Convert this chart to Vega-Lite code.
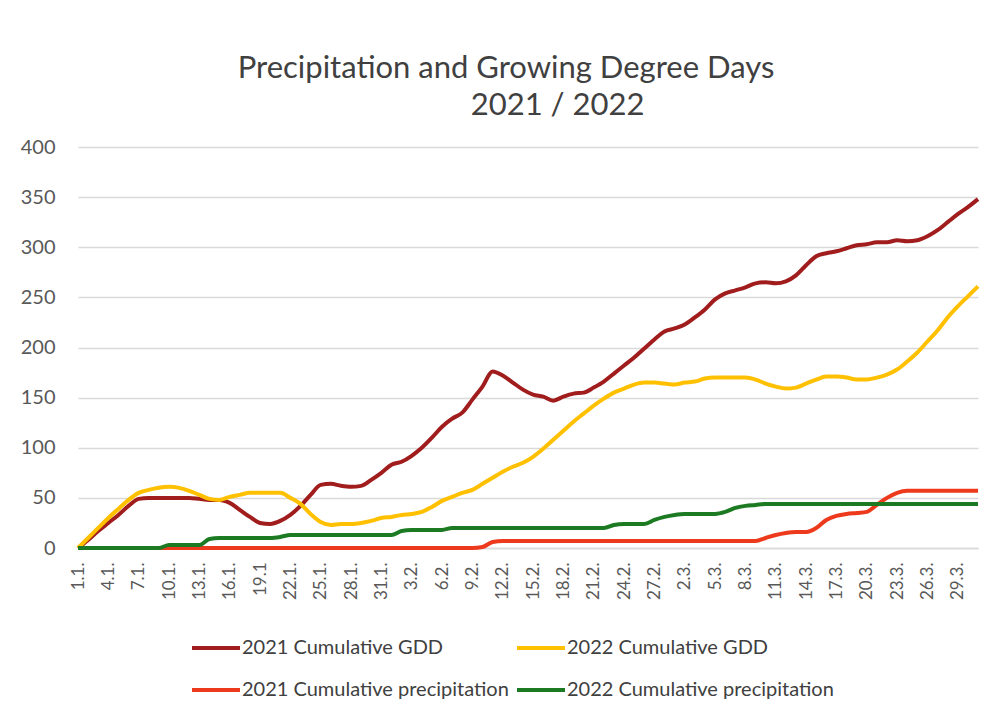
{
  "$schema": "https://vega.github.io/schema/vega-lite/v6.json",
  "width": 900,
  "height": 401,
  "autosize": "none",
  "padding": {"left": 78, "top": 147, "right": 17, "bottom": 170},
  "background": "white",
  "title": {
    "text": ["Precipitation and Growing Degree Days", "\u200b\u00a0\u00a0\u00a0\u00a0\u00a0\u00a0\u00a0\u00a0\u00a0\u00a0\u00a0\u00a0\u00a02021 / 2022"],
    "font": "Lato",
    "fontSize": 31,
    "fontWeight": "normal",
    "color": "#404040",
    "anchor": "middle",
    "dx": -22,
    "offset": 15,
    "lineHeight": 37
  },
  "data": {
    "values": [
      {"d": "1.1.", "2021 Cumulative GDD": 0, "2022 Cumulative GDD": 0, "2021 Cumulative precipitation": 0, "2022 Cumulative precipitation": 0},
      {"d": "2.1.", "2021 Cumulative GDD": 8, "2022 Cumulative GDD": 10, "2021 Cumulative precipitation": 0, "2022 Cumulative precipitation": 0},
      {"d": "3.1.", "2021 Cumulative GDD": 17, "2022 Cumulative GDD": 20, "2021 Cumulative precipitation": 0, "2022 Cumulative precipitation": 0},
      {"d": "4.1.", "2021 Cumulative GDD": 25, "2022 Cumulative GDD": 30, "2021 Cumulative precipitation": 0, "2022 Cumulative precipitation": 0},
      {"d": "5.1.", "2021 Cumulative GDD": 33, "2022 Cumulative GDD": 39, "2021 Cumulative precipitation": 0, "2022 Cumulative precipitation": 0},
      {"d": "6.1.", "2021 Cumulative GDD": 42, "2022 Cumulative GDD": 48, "2021 Cumulative precipitation": 0, "2022 Cumulative precipitation": 0},
      {"d": "7.1.", "2021 Cumulative GDD": 49, "2022 Cumulative GDD": 55, "2021 Cumulative precipitation": 0, "2022 Cumulative precipitation": 0},
      {"d": "8.1.", "2021 Cumulative GDD": 50, "2022 Cumulative GDD": 58, "2021 Cumulative precipitation": 0, "2022 Cumulative precipitation": 0},
      {"d": "9.1.", "2021 Cumulative GDD": 50, "2022 Cumulative GDD": 60, "2021 Cumulative precipitation": 0, "2022 Cumulative precipitation": 0},
      {"d": "10.1.", "2021 Cumulative GDD": 50, "2022 Cumulative GDD": 61, "2021 Cumulative precipitation": 0, "2022 Cumulative precipitation": 3},
      {"d": "11.1.", "2021 Cumulative GDD": 50, "2022 Cumulative GDD": 60, "2021 Cumulative precipitation": 0, "2022 Cumulative precipitation": 3},
      {"d": "12.1.", "2021 Cumulative GDD": 50, "2022 Cumulative GDD": 57, "2021 Cumulative precipitation": 0, "2022 Cumulative precipitation": 3},
      {"d": "13.1.", "2021 Cumulative GDD": 49, "2022 Cumulative GDD": 53, "2021 Cumulative precipitation": 0, "2022 Cumulative precipitation": 3},
      {"d": "14.1.", "2021 Cumulative GDD": 48, "2022 Cumulative GDD": 49, "2021 Cumulative precipitation": 0, "2022 Cumulative precipitation": 9},
      {"d": "15.1.", "2021 Cumulative GDD": 48, "2022 Cumulative GDD": 48, "2021 Cumulative precipitation": 0, "2022 Cumulative precipitation": 10},
      {"d": "16.1.", "2021 Cumulative GDD": 45, "2022 Cumulative GDD": 51, "2021 Cumulative precipitation": 0, "2022 Cumulative precipitation": 10},
      {"d": "17.1.", "2021 Cumulative GDD": 38, "2022 Cumulative GDD": 53, "2021 Cumulative precipitation": 0, "2022 Cumulative precipitation": 10},
      {"d": "18.1.", "2021 Cumulative GDD": 31, "2022 Cumulative GDD": 55, "2021 Cumulative precipitation": 0, "2022 Cumulative precipitation": 10},
      {"d": "19.1", "2021 Cumulative GDD": 25, "2022 Cumulative GDD": 55, "2021 Cumulative precipitation": 0, "2022 Cumulative precipitation": 10},
      {"d": "20.1.", "2021 Cumulative GDD": 24, "2022 Cumulative GDD": 55, "2021 Cumulative precipitation": 0, "2022 Cumulative precipitation": 10},
      {"d": "21.1.", "2021 Cumulative GDD": 27, "2022 Cumulative GDD": 55, "2021 Cumulative precipitation": 0, "2022 Cumulative precipitation": 11},
      {"d": "22.1.", "2021 Cumulative GDD": 33, "2022 Cumulative GDD": 50, "2021 Cumulative precipitation": 0, "2022 Cumulative precipitation": 13},
      {"d": "23.1.", "2021 Cumulative GDD": 42, "2022 Cumulative GDD": 44, "2021 Cumulative precipitation": 0, "2022 Cumulative precipitation": 13},
      {"d": "24.1.", "2021 Cumulative GDD": 53, "2022 Cumulative GDD": 34, "2021 Cumulative precipitation": 0, "2022 Cumulative precipitation": 13},
      {"d": "25.1.", "2021 Cumulative GDD": 63, "2022 Cumulative GDD": 26, "2021 Cumulative precipitation": 0, "2022 Cumulative precipitation": 13},
      {"d": "26.1.", "2021 Cumulative GDD": 64, "2022 Cumulative GDD": 23, "2021 Cumulative precipitation": 0, "2022 Cumulative precipitation": 13},
      {"d": "27.1.", "2021 Cumulative GDD": 62, "2022 Cumulative GDD": 24, "2021 Cumulative precipitation": 0, "2022 Cumulative precipitation": 13},
      {"d": "28.1.", "2021 Cumulative GDD": 61, "2022 Cumulative GDD": 24, "2021 Cumulative precipitation": 0, "2022 Cumulative precipitation": 13},
      {"d": "29.1.", "2021 Cumulative GDD": 62, "2022 Cumulative GDD": 25, "2021 Cumulative precipitation": 0, "2022 Cumulative precipitation": 13},
      {"d": "30.1.", "2021 Cumulative GDD": 68, "2022 Cumulative GDD": 27, "2021 Cumulative precipitation": 0, "2022 Cumulative precipitation": 13},
      {"d": "31.1.", "2021 Cumulative GDD": 75, "2022 Cumulative GDD": 30, "2021 Cumulative precipitation": 0, "2022 Cumulative precipitation": 13},
      {"d": "1.2.", "2021 Cumulative GDD": 83, "2022 Cumulative GDD": 31, "2021 Cumulative precipitation": 0, "2022 Cumulative precipitation": 13},
      {"d": "2.2.", "2021 Cumulative GDD": 86, "2022 Cumulative GDD": 33, "2021 Cumulative precipitation": 0, "2022 Cumulative precipitation": 17},
      {"d": "3.2.", "2021 Cumulative GDD": 92, "2022 Cumulative GDD": 34, "2021 Cumulative precipitation": 0, "2022 Cumulative precipitation": 18},
      {"d": "4.2.", "2021 Cumulative GDD": 100, "2022 Cumulative GDD": 36, "2021 Cumulative precipitation": 0, "2022 Cumulative precipitation": 18},
      {"d": "5.2.", "2021 Cumulative GDD": 110, "2022 Cumulative GDD": 41, "2021 Cumulative precipitation": 0, "2022 Cumulative precipitation": 18},
      {"d": "6.2.", "2021 Cumulative GDD": 121, "2022 Cumulative GDD": 47, "2021 Cumulative precipitation": 0, "2022 Cumulative precipitation": 18},
      {"d": "7.2.", "2021 Cumulative GDD": 129, "2022 Cumulative GDD": 51, "2021 Cumulative precipitation": 0, "2022 Cumulative precipitation": 20},
      {"d": "8.2.", "2021 Cumulative GDD": 135, "2022 Cumulative GDD": 55, "2021 Cumulative precipitation": 0, "2022 Cumulative precipitation": 20},
      {"d": "9.2.", "2021 Cumulative GDD": 148, "2022 Cumulative GDD": 58, "2021 Cumulative precipitation": 0, "2022 Cumulative precipitation": 20},
      {"d": "10.2.", "2021 Cumulative GDD": 161, "2022 Cumulative GDD": 64, "2021 Cumulative precipitation": 1, "2022 Cumulative precipitation": 20},
      {"d": "11.2.", "2021 Cumulative GDD": 176, "2022 Cumulative GDD": 70, "2021 Cumulative precipitation": 6, "2022 Cumulative precipitation": 20},
      {"d": "12.2.", "2021 Cumulative GDD": 172, "2022 Cumulative GDD": 76, "2021 Cumulative precipitation": 7, "2022 Cumulative precipitation": 20},
      {"d": "13.2.", "2021 Cumulative GDD": 165, "2022 Cumulative GDD": 81, "2021 Cumulative precipitation": 7, "2022 Cumulative precipitation": 20},
      {"d": "14.2.", "2021 Cumulative GDD": 158, "2022 Cumulative GDD": 85, "2021 Cumulative precipitation": 7, "2022 Cumulative precipitation": 20},
      {"d": "15.2.", "2021 Cumulative GDD": 153, "2022 Cumulative GDD": 91, "2021 Cumulative precipitation": 7, "2022 Cumulative precipitation": 20},
      {"d": "16.2.", "2021 Cumulative GDD": 151, "2022 Cumulative GDD": 99, "2021 Cumulative precipitation": 7, "2022 Cumulative precipitation": 20},
      {"d": "17.2.", "2021 Cumulative GDD": 147, "2022 Cumulative GDD": 108, "2021 Cumulative precipitation": 7, "2022 Cumulative precipitation": 20},
      {"d": "18.2.", "2021 Cumulative GDD": 151, "2022 Cumulative GDD": 117, "2021 Cumulative precipitation": 7, "2022 Cumulative precipitation": 20},
      {"d": "19.2.", "2021 Cumulative GDD": 154, "2022 Cumulative GDD": 126, "2021 Cumulative precipitation": 7, "2022 Cumulative precipitation": 20},
      {"d": "20.2.", "2021 Cumulative GDD": 155, "2022 Cumulative GDD": 134, "2021 Cumulative precipitation": 7, "2022 Cumulative precipitation": 20},
      {"d": "21.2.", "2021 Cumulative GDD": 160, "2022 Cumulative GDD": 142, "2021 Cumulative precipitation": 7, "2022 Cumulative precipitation": 20},
      {"d": "22.2.", "2021 Cumulative GDD": 166, "2022 Cumulative GDD": 149, "2021 Cumulative precipitation": 7, "2022 Cumulative precipitation": 20},
      {"d": "23.2.", "2021 Cumulative GDD": 174, "2022 Cumulative GDD": 155, "2021 Cumulative precipitation": 7, "2022 Cumulative precipitation": 23},
      {"d": "24.2.", "2021 Cumulative GDD": 182, "2022 Cumulative GDD": 159, "2021 Cumulative precipitation": 7, "2022 Cumulative precipitation": 24},
      {"d": "25.2.", "2021 Cumulative GDD": 190, "2022 Cumulative GDD": 163, "2021 Cumulative precipitation": 7, "2022 Cumulative precipitation": 24},
      {"d": "26.2.", "2021 Cumulative GDD": 199, "2022 Cumulative GDD": 165, "2021 Cumulative precipitation": 7, "2022 Cumulative precipitation": 24},
      {"d": "27.2.", "2021 Cumulative GDD": 208, "2022 Cumulative GDD": 165, "2021 Cumulative precipitation": 7, "2022 Cumulative precipitation": 28},
      {"d": "28.2.", "2021 Cumulative GDD": 216, "2022 Cumulative GDD": 164, "2021 Cumulative precipitation": 7, "2022 Cumulative precipitation": 31},
      {"d": "1.3.", "2021 Cumulative GDD": 219, "2022 Cumulative GDD": 163, "2021 Cumulative precipitation": 7, "2022 Cumulative precipitation": 33},
      {"d": "2.3.", "2021 Cumulative GDD": 223, "2022 Cumulative GDD": 165, "2021 Cumulative precipitation": 7, "2022 Cumulative precipitation": 34},
      {"d": "3.3.", "2021 Cumulative GDD": 230, "2022 Cumulative GDD": 166, "2021 Cumulative precipitation": 7, "2022 Cumulative precipitation": 34},
      {"d": "4.3.", "2021 Cumulative GDD": 238, "2022 Cumulative GDD": 169, "2021 Cumulative precipitation": 7, "2022 Cumulative precipitation": 34},
      {"d": "5.3.", "2021 Cumulative GDD": 248, "2022 Cumulative GDD": 170, "2021 Cumulative precipitation": 7, "2022 Cumulative precipitation": 34},
      {"d": "6.3.", "2021 Cumulative GDD": 254, "2022 Cumulative GDD": 170, "2021 Cumulative precipitation": 7, "2022 Cumulative precipitation": 36},
      {"d": "7.3.", "2021 Cumulative GDD": 257, "2022 Cumulative GDD": 170, "2021 Cumulative precipitation": 7, "2022 Cumulative precipitation": 40},
      {"d": "8.3.", "2021 Cumulative GDD": 260, "2022 Cumulative GDD": 170, "2021 Cumulative precipitation": 7, "2022 Cumulative precipitation": 42},
      {"d": "9.3.", "2021 Cumulative GDD": 264, "2022 Cumulative GDD": 168, "2021 Cumulative precipitation": 7, "2022 Cumulative precipitation": 43},
      {"d": "10.3.", "2021 Cumulative GDD": 265, "2022 Cumulative GDD": 164, "2021 Cumulative precipitation": 10, "2022 Cumulative precipitation": 44},
      {"d": "11.3.", "2021 Cumulative GDD": 264, "2022 Cumulative GDD": 161, "2021 Cumulative precipitation": 13, "2022 Cumulative precipitation": 44},
      {"d": "12.3.", "2021 Cumulative GDD": 266, "2022 Cumulative GDD": 159, "2021 Cumulative precipitation": 15, "2022 Cumulative precipitation": 44},
      {"d": "13.3.", "2021 Cumulative GDD": 272, "2022 Cumulative GDD": 160, "2021 Cumulative precipitation": 16, "2022 Cumulative precipitation": 44},
      {"d": "14.3.", "2021 Cumulative GDD": 282, "2022 Cumulative GDD": 164, "2021 Cumulative precipitation": 16, "2022 Cumulative precipitation": 44},
      {"d": "15.3.", "2021 Cumulative GDD": 291, "2022 Cumulative GDD": 168, "2021 Cumulative precipitation": 20, "2022 Cumulative precipitation": 44},
      {"d": "16.3.", "2021 Cumulative GDD": 294, "2022 Cumulative GDD": 171, "2021 Cumulative precipitation": 28, "2022 Cumulative precipitation": 44},
      {"d": "17.3.", "2021 Cumulative GDD": 296, "2022 Cumulative GDD": 171, "2021 Cumulative precipitation": 32, "2022 Cumulative precipitation": 44},
      {"d": "18.3.", "2021 Cumulative GDD": 299, "2022 Cumulative GDD": 170, "2021 Cumulative precipitation": 34, "2022 Cumulative precipitation": 44},
      {"d": "19.3.", "2021 Cumulative GDD": 302, "2022 Cumulative GDD": 168, "2021 Cumulative precipitation": 35, "2022 Cumulative precipitation": 44},
      {"d": "20.3.", "2021 Cumulative GDD": 303, "2022 Cumulative GDD": 168, "2021 Cumulative precipitation": 36, "2022 Cumulative precipitation": 44},
      {"d": "21.3.", "2021 Cumulative GDD": 305, "2022 Cumulative GDD": 170, "2021 Cumulative precipitation": 43, "2022 Cumulative precipitation": 44},
      {"d": "22.3.", "2021 Cumulative GDD": 305, "2022 Cumulative GDD": 173, "2021 Cumulative precipitation": 50, "2022 Cumulative precipitation": 44},
      {"d": "23.3.", "2021 Cumulative GDD": 307, "2022 Cumulative GDD": 178, "2021 Cumulative precipitation": 55, "2022 Cumulative precipitation": 44},
      {"d": "24.3.", "2021 Cumulative GDD": 306, "2022 Cumulative GDD": 186, "2021 Cumulative precipitation": 57, "2022 Cumulative precipitation": 44},
      {"d": "25.3.", "2021 Cumulative GDD": 307, "2022 Cumulative GDD": 195, "2021 Cumulative precipitation": 57, "2022 Cumulative precipitation": 44},
      {"d": "26.3.", "2021 Cumulative GDD": 311, "2022 Cumulative GDD": 206, "2021 Cumulative precipitation": 57, "2022 Cumulative precipitation": 44},
      {"d": "27.3.", "2021 Cumulative GDD": 317, "2022 Cumulative GDD": 217, "2021 Cumulative precipitation": 57, "2022 Cumulative precipitation": 44},
      {"d": "28.3.", "2021 Cumulative GDD": 325, "2022 Cumulative GDD": 230, "2021 Cumulative precipitation": 57, "2022 Cumulative precipitation": 44},
      {"d": "29.3.", "2021 Cumulative GDD": 333, "2022 Cumulative GDD": 241, "2021 Cumulative precipitation": 57, "2022 Cumulative precipitation": 44},
      {"d": "30.3.", "2021 Cumulative GDD": 340, "2022 Cumulative GDD": 251, "2021 Cumulative precipitation": 57, "2022 Cumulative precipitation": 44},
      {"d": "31.3.", "2021 Cumulative GDD": 348, "2022 Cumulative GDD": 261, "2021 Cumulative precipitation": 57, "2022 Cumulative precipitation": 44}
    ]
  },
  "transform": [
    {"fold": ["2021 Cumulative GDD", "2022 Cumulative GDD", "2021 Cumulative precipitation", "2022 Cumulative precipitation"], "as": ["series", "value"]}
  ],
  "mark": {"type": "line", "strokeWidth": 4, "interpolate": "monotone"},
  "encoding": {
    "x": {
      "field": "d",
      "type": "ordinal",
      "sort": null,
      "scale": {"type": "point", "padding": 0},
      "axis": {
        "title": null,
        "labelExpr": "indexof(['1.1.','4.1.','7.1.','10.1.','13.1.','16.1.','19.1','22.1.','25.1.','28.1.','31.1.','3.2.','6.2.','9.2.','12.2.','15.2.','18.2.','21.2.','24.2.','27.2.','2.3.','5.3.','8.3.','11.3.','14.3.','17.3.','20.3.','23.3.','26.3.','29.3.'], datum.value) >= 0 ? datum.label : ''",
        "labelAngle": -90,
        "labelFont": "Lato",
        "labelFontSize": 17,
        "labelColor": "#595959",
        "labelPadding": 14,
        "labelDy": 3,
        "labelFlush": false,
        "labelBound": false,
        "ticks": false,
        "grid": false,
        "domainColor": "#d9d9d9",
        "domainWidth": 1.5,
        "labelOverlap": false
      }
    },
    "y": {
      "field": "value",
      "type": "quantitative",
      "scale": {"domain": [0, 400], "nice": false},
      "axis": {
        "title": null,
        "values": [0, 50, 100, 150, 200, 250, 300, 350, 400],
        "labelFont": "Lato",
        "labelFontSize": 20,
        "labelColor": "#595959",
        "labelPadding": 23,
        "ticks": false,
        "domain": false,
        "gridColor": "#d9d9d9",
        "gridWidth": 1.5
      }
    },
    "color": {
      "field": "series",
      "type": "nominal",
      "scale": {
        "domain": ["2021 Cumulative GDD", "2022 Cumulative GDD", "2021 Cumulative precipitation", "2022 Cumulative precipitation"],
        "range": ["#a11d1d", "#ffc000", "#ee3a1c", "#1c7a22"]
      },
      "legend": {
        "title": null,
        "orient": "none",
        "direction": "horizontal",
        "legendX": 112,
        "legendY": 475,
        "columns": 2,
        "columnPadding": 0,
        "rowPadding": 6,
        "symbolType": "stroke",
        "symbolSize": 2304,
        "symbolStrokeWidth": 4,
        "labelFont": "Lato",
        "labelFontSize": 20,
        "labelColor": "#404040",
        "labelOffset": 0,
        "labelLimit": 400
      }
    }
  },
  "config": {"view": {"stroke": null}}
}
